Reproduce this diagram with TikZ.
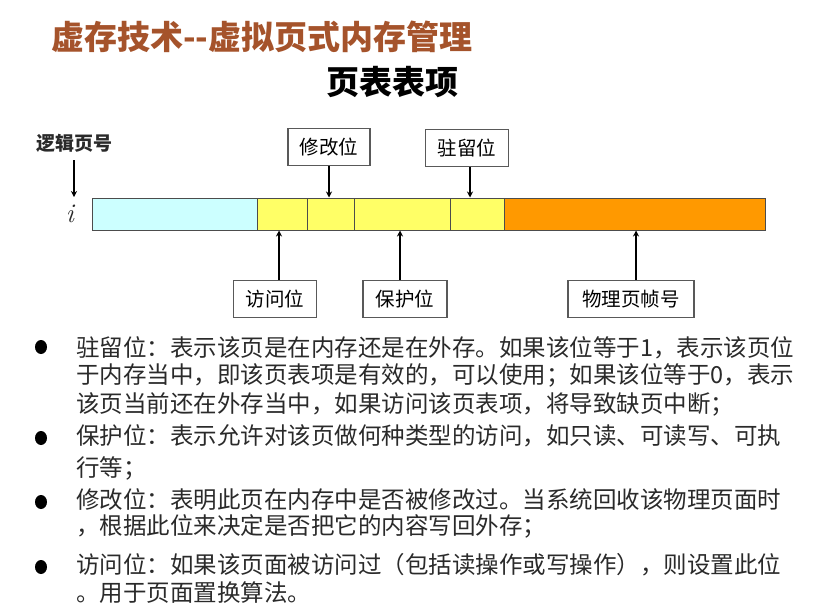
\documentclass[tikz,border=0pt]{standalone}
\usepackage{fontspec}
\usetikzlibrary{arrows.meta}
\newfontfamily\cjk{Noto Sans CJK SC}
\definecolor{titlec}{HTML}{A5532B}
\definecolor{cyanc}{HTML}{CCFFFF}
\definecolor{yelc}{HTML}{FFFF66}
\definecolor{orac}{HTML}{FF9900}
\definecolor{txtc}{HTML}{2A2A2A}
\tikzset{
  seg/.style={draw=black!70, line width=1pt, rectangle, minimum height=32pt, inner sep=0pt, anchor=west},
  lbox/.style={draw=black!65, line width=1.2pt, rectangle, minimum height=37pt, inner sep=0pt, font=\cjk\fontsize{19.5}{19.5}\selectfont},
  arr/.style={line width=2pt, -{Stealth[length=6pt,width=6pt]}},
  bul/.style={ellipse, fill=black, inner sep=0pt, minimum width=12pt, minimum height=14pt},
  line/.style={anchor=west, inner sep=0pt, text=txtc, font=\cjk\fontsize{23.5}{23.5}\selectfont}
}
\usetikzlibrary{shapes.geometric}
\begin{document}
\begin{tikzpicture}[x=1pt,y=-1pt]
\useasboundingbox (0,0) rectangle (834,614);
% titles
\node[anchor=west, inner sep=0pt, text=titlec, font=\cjk\bfseries\fontsize{33}{33}\selectfont] (title) at (51,37) {虚存技术--虚拟页式内存管理};
\node[inner sep=0pt, font=\cjk\bfseries\fontsize{33}{33}\selectfont] (sub) at (392,82) {页表表项};
% bar
\node[seg, fill=cyanc, minimum width=165pt] (s0) at (92,214) {};
\node[seg, fill=yelc, minimum width=50pt] (s1) at (257,214) {};
\node[seg, fill=yelc, minimum width=47pt] (s2) at (307,214) {};
\node[seg, fill=yelc, minimum width=96pt] (s3) at (354,214) {};
\node[seg, fill=yelc, minimum width=54pt] (s4) at (450,214) {};
\node[seg, fill=orac, minimum width=261pt] (s5) at (504,214) {};
% logical page number
\node[inner sep=0pt, font=\cjk\bfseries\fontsize{19}{19}\selectfont, text=txtc] (lpn) at (74,143) {逻辑页号};
\coordinate (lpnend) at (74,197);
\node[inner sep=0pt, font=\itshape\fontsize{27}{27}\selectfont, text=txtc] (ii) at (70,214) {i};
\draw[arr] (lpn.south) ++(0,8) -- (lpnend);
% label boxes
\node[lbox, minimum width=82pt] (mod) at (329,147) {修改位};
\node[lbox, minimum width=83pt] (res) at (467,148) {驻留位};
\node[lbox, minimum width=83pt] (acc) at (275,299) {访问位};
\node[lbox, minimum width=84pt] (pro) at (405,299) {保护位};
\node[lbox, minimum width=126pt] (frm) at (631,299) {物理页帧号};
% arrows
\draw[arr] (mod.south) -- (mod.south |- s2.north);
\draw[arr] ([xshift=3pt]res.south) -- ([xshift=3pt]res.south |- s4.north);
\draw[arr] ([xshift=4pt]acc.north) -- ([xshift=4pt]acc.north |- s1.south);
\draw[arr] ([xshift=-5pt]pro.north) -- ([xshift=-5pt]pro.north |- s3.south);
\draw[arr] ([xshift=5pt]frm.north) -- ([xshift=5pt]frm.north |- s5.south);
% bullets
\node[bul] (b1) at (41,347) {};
\node[bul] (b2) at (41,438) {};
\node[bul] (b3) at (41,502) {};
\node[bul] (b4) at (41,567) {};
% text lines
\node[line] (t1) at (76,348) {驻留位：表示该页是在内存还是在外存。如果该位等于1，表示该页位};
\node[line] (t2) at (76,375) {于内存当中，即该页表项是有效的，可以使用；如果该位等于0，表示};
\node[line] (t3) at (76,404) {该页当前还在外存当中，如果访问该页表项，将导致缺页中断；};
\node[line] (t4) at (76,436) {保护位：表示允许对该页做何种类型的访问，如只读、可读写、可执};
\node[line] (t5) at (76,468) {行等；};
\node[line] (t6) at (76,500) {修改位：表明此页在内存中是否被修改过。当系统回收该物理页面时};
\node[line] (t7) at (76,526) {，根据此位来决定是否把它的内容写回外存；};
\node[line] (t8) at (76,565) {访问位：如果该页面被访问过（包括读操作或写操作），则设置此位};
\node[line] (t9) at (76,593) {。用于页面置换算法。};
\end{tikzpicture}
\end{document}
